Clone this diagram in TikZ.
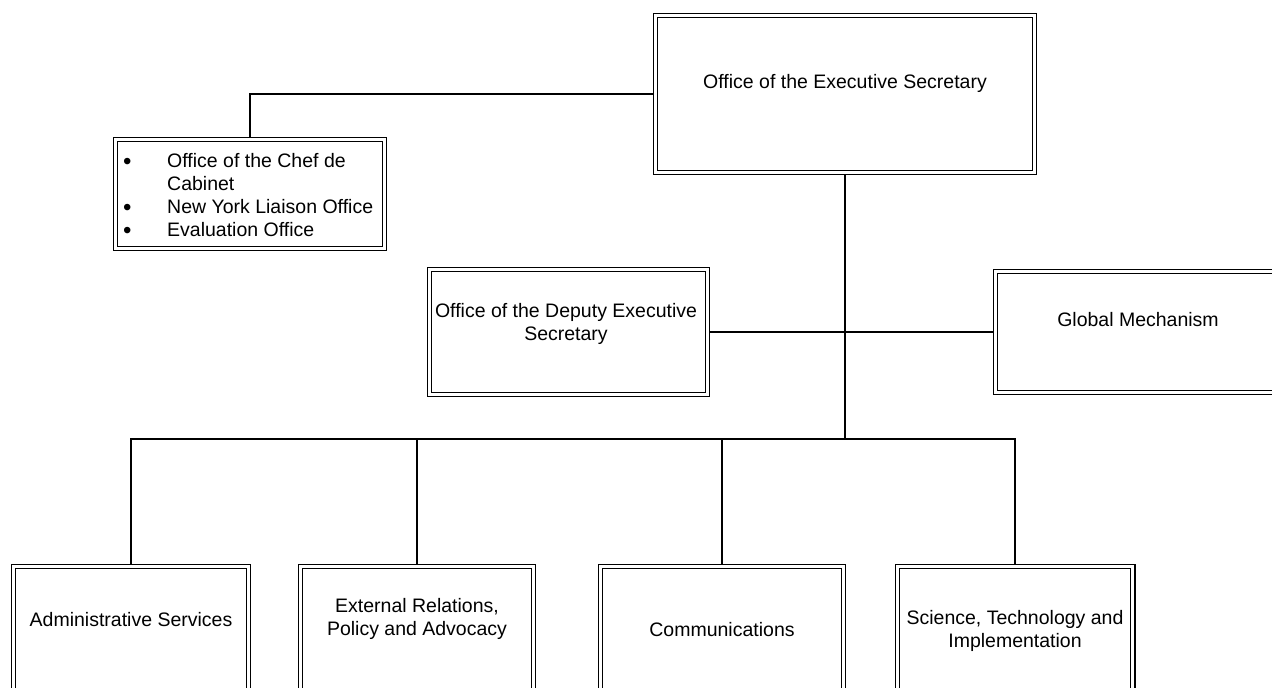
\documentclass[tikz,border=0pt]{standalone}
\usepackage{fontspec}
\setmainfont{Liberation Sans}
\usetikzlibrary{positioning,backgrounds}

\newcommand{\bul}{\raisebox{-2pt}{\fontsize{24}{23}\selectfont\textbullet}}

\tikzset{
  unit/.style={draw, double, double distance=3pt, line width=1.1pt, inner sep=0pt},
  txt/.style={align=center, inner sep=0pt, font=\fontsize{19.5}{23}\selectfont},
  link/.style={line width=1.2pt},
}

\begin{document}
\begin{tikzpicture}[x=1pt,y=-1pt]
\useasboundingbox (0,0) rectangle (1272,688);
\clip (0,0) rectangle (1272,688);
% top level
\node[unit, minimum width=378.8pt, minimum height=156.8pt] (exec) at (845,94) {};
\node[unit, minimum width=268.8pt, minimum height=108.8pt] (cabinet) at (250,194) {};
% middle level
\node[unit, minimum width=277.8pt, minimum height=124.8pt] (deputy) at (568.5,332) {};
\node[unit, minimum width=284.8pt, minimum height=120.8pt] (gm) at (1138,332) {};
% units
\node[unit, minimum width=234.8pt, minimum height=154.8pt] (admin) at (131,644) {};
\node[unit, minimum width=232.8pt, minimum height=154.8pt] (extrel) at (417,644) {};
\node[unit, minimum width=242.8pt, minimum height=154.8pt] (comms) at (722,644) {};
\node[unit, minimum width=235.8pt, minimum height=154.8pt] (sci) at (1015,644) {};
\coordinate (hub) at (845,439);

% texts
\node[txt] (execText) at (845,83) {Office of the Executive Secretary};
\node[txt, anchor=base west] (cablist) at (123,167) {%
  \begin{tabular}[t]{@{}p{44pt}@{}l@{}}
  \bul & Office of the Chef de\\
       & Cabinet\\
  \bul & New York Liaison Office\\
  \bul & Evaluation Office
  \end{tabular}};
\node[txt] (deputyText) at (566,324) {Office of the Deputy Executive\\Secretary};
\node[txt] (gmText) at (1138,320) {Global Mechanism};
\node[txt] (adminText) at (131,620) {Administrative Services};
\node[txt] (extrelText) at (417,619) {External Relations,\\Policy and Advocacy};
\node[txt] (commsText) at (722,630) {Communications};
\node[txt] (sciText) at (1015,631) {Science, Technology and\\Implementation};

\begin{pgfonlayer}{background}
  \draw[link] (cabinet.north) |- (exec.west);
  \draw[link] (exec.south) -- (hub);
  \draw[link] (deputy.east) -- (gm.west);
  \foreach \d in {admin,extrel,comms,sci}
    \draw[link] (hub) -| (\d.north);
\end{pgfonlayer}
\end{tikzpicture}
\end{document}
